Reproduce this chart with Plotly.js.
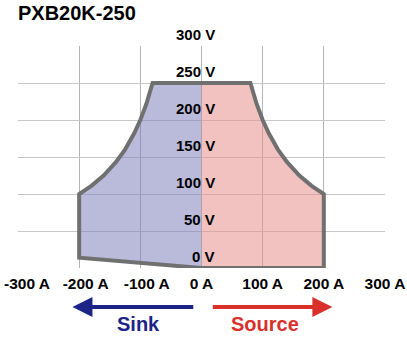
<!DOCTYPE html>
<html><head><meta charset="utf-8">
<script src="https://cdn.plot.ly/plotly-3.0.1.min.js"></script>
<style>html,body{margin:0;padding:0;background:#fff}#c{width:407px;height:340px}</style>
</head><body><div id="c"></div>
<script>
// Sink (left) boundary: current (A), voltage (V)
const sinkI = [0, -80, -90, -100, -110, -125, -140, -160, -180, -200, -200, 0];
const sinkV = [250, 250, 222, 200, 182, 160, 143, 125, 111, 100, 14, 0];
// Source (right) boundary
const srcI = [0, 80, 90, 100, 110, 125, 140, 160, 180, 200, 200, 0];
const srcV = [250, 250, 222, 200, 182, 160, 143, 125, 111, 100, 0, 0];
// Outline (whole envelope)
const outI = [0, -200, -200, -180, -160, -140, -125, -110, -100, -90, -80, 80, 90, 100, 110, 125, 140, 160, 180, 200, 200, 0];
const outV = [0, 14, 100, 111, 125, 143, 160, 182, 200, 222, 250, 250, 222, 200, 182, 160, 143, 125, 111, 100, 0, 0];
const xTicks = [-300, -200, -100, 0, 100, 200, 300];
const xLabels = ['-300 A', '-200 A', '-100 A', '0 A', '100 A', '200 A', '300 A'];
const yTicks = [0, 50, 100, 150, 200, 250, 300];
const yLabels = ['0 V', '50 V', '100 V', '150 V', '200 V', '250 V', '300 V'];
const chartTitle = 'PXB20K-250';
const sinkLabel = 'Sink', sourceLabel = 'Source';

const F = 'Liberation Sans, Arial, sans-serif';
const NB = '\u00a0\u00a0\u00a0';
// leftmost label drawn as a left-anchored annotation so it stays inside the page
const xText = xLabels.map((t, i) => i === 0 ? '' : (xTicks[i] < 0 ? NB + t : t));
const traces = [
  {x: sinkI, y: sinkV, type: 'scatter', mode: 'none', fill: 'toself', fillcolor: 'rgba(130,131,190,0.55)', hoverinfo: 'skip'},
  {x: srcI, y: srcV, type: 'scatter', mode: 'none', fill: 'toself', fillcolor: 'rgba(231,144,140,0.55)', hoverinfo: 'skip'},
  {x: outI, y: outV, type: 'scatter', mode: 'lines', line: {color: '#707070', width: 4}, hoverinfo: 'skip'}
];
const ann = yTicks.map((v, i) => ({
  x: 0, y: v, xref: 'x', yref: 'y', text: yLabels[i], showarrow: false,
  xanchor: 'right', yanchor: 'middle', xshift: 15, yshift: 12,
  font: {family: F, size: 15, color: '#000', weight: 'bold'}
}));
ann.push(
  {x: xTicks[0], y: 0, xref: 'x', yref: 'y', text: xLabels[0], showarrow: false,
   xanchor: 'left', yanchor: 'middle', xshift: -16, yshift: -15,
   font: {family: F, size: 15.5, color: '#000', weight: 'bold'}},
  {x: -211, y: -0.176, xref: 'x', yref: 'paper', ax: -11, ay: -0.176, axref: 'x', ayref: 'paper',
   text: '', showarrow: true, arrowhead: 2, arrowsize: 1, arrowwidth: 4, arrowcolor: '#1c2488'},
  {x: 214, y: -0.176, xref: 'x', yref: 'paper', ax: 16, ay: -0.176, axref: 'x', ayref: 'paper',
   text: '', showarrow: true, arrowhead: 2, arrowsize: 1, arrowwidth: 4, arrowcolor: '#d9302c'},
  {x: -103, y: -0.25, xref: 'x', yref: 'paper', text: sinkLabel, showarrow: false,
   xanchor: 'center', yanchor: 'middle', font: {family: F, size: 20, color: '#1c2488', weight: 'bold'}},
  {x: 103, y: -0.25, xref: 'x', yref: 'paper', text: sourceLabel, showarrow: false,
   xanchor: 'center', yanchor: 'middle', font: {family: F, size: 20, color: '#d9302c', weight: 'bold'}}
);
const layout = {
  width: 407, height: 340,
  margin: {l: 18, r: 22, t: 46, b: 72},
  paper_bgcolor: '#fff', plot_bgcolor: '#fff',
  showlegend: false,
  title: {text: chartTitle, x: 18/407, xanchor: 'left', xref: 'container', y: 1 - 13/340, yref: 'container', yanchor: 'middle',
          font: {family: F, size: 20, color: '#000', weight: 'bold'}},
  xaxis: {range: [-300, 300], tickvals: xTicks, ticktext: xText, showgrid: true, gridcolor: '#b4b4b4', gridwidth: 1,
          zeroline: false, showline: false, ticks: '', tickfont: {family: F, size: 15.5, color: '#000', weight: 'bold'},
          ticklabelstandoff: 4, ticklabeloverflow: 'allow', fixedrange: true},
  yaxis: {range: [0, 300], tickvals: yTicks, showticklabels: false, showgrid: true, gridcolor: '#c8c8c8', gridwidth: 1,
          zeroline: false, showline: false, ticks: '', fixedrange: true},
  annotations: ann
};
Plotly.newPlot('c', traces, layout, {displayModeBar: false, staticPlot: true});
</script></body></html>
